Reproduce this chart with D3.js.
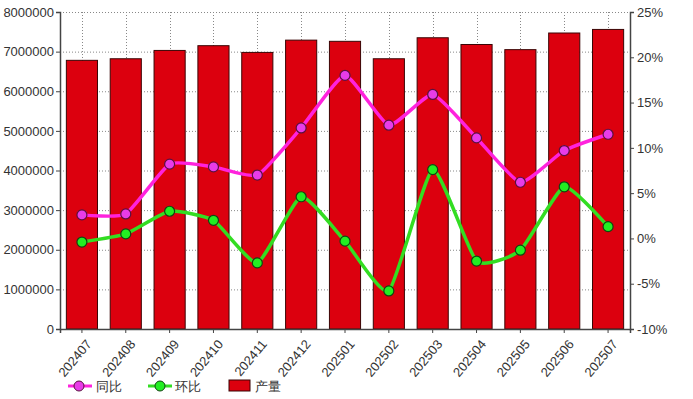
<!DOCTYPE html>
<html>
<head>
<meta charset="utf-8">
<script src="https://cdn.jsdelivr.net/npm/d3@7/dist/d3.min.js"></script>
<style>
  body { margin: 0; background: #fff; }
  text { font-family: Arial, "Liberation Sans", sans-serif; fill: #333; }
</style>
</head>
<body>
<script>
var months = ["202407", "202408", "202409", "202410", "202411", "202412", "202501",
  "202502", "202503", "202504", "202505", "202506", "202507"];
var output = [6780000, 6820000, 7030000, 7150000, 6980000, 7290000, 7260000,
  6820000, 7350000, 7180000, 7050000, 7470000, 7560000];
var yoy = [2.6, 2.7, 8.2, 7.9, 7.0, 12.2, 18.0, 12.5, 15.9, 11.1, 6.2, 9.7, 11.5];
var mom = [-0.4, 0.5, 3.0, 2.0, -2.7, 4.6, -0.3, -5.8, 7.6, -2.5, -1.3, 5.7, 1.3];
var leftTicks = [0, 1000000, 2000000, 3000000, 4000000, 5000000, 6000000, 7000000, 8000000];
var rightTicks = [-10, -5, 0, 5, 10, 15, 20, 25];

var margin = { top: 12, right: 63, bottom: 70, left: 60 },
  W = 693, H = 399,
  width = W - margin.left - margin.right,
  height = H - margin.top - margin.bottom;

var svg = d3.select("body").append("svg").attr("width", W).attr("height", H);
var g = svg.append("g").attr("transform", `translate(${margin.left},${margin.top})`);

var x = d3.scaleBand().domain(months).range([0, width]).paddingInner(0.29).paddingOuter(0.145);
var xc = function (d) { return x(d) + x.bandwidth() / 2; };
var y = d3.scaleLinear().domain([0, 8000000]).range([height, 0]);
var y2 = d3.scaleLinear().domain([-10, 25]).range([height, 0]);

// grid
g.selectAll(".hgrid").data(leftTicks.slice(1)).enter().append("line")
  .attr("x1", 0).attr("x2", width)
  .attr("y1", function (d) { return y(d) + 0.5; }).attr("y2", function (d) { return y(d) + 0.5; })
  .attr("stroke", "#888").attr("stroke-dasharray", "1,2");
g.selectAll(".vgrid").data(months).enter().append("line")
  .attr("x1", function (d) { return Math.round(xc(d)) + 0.5; })
  .attr("x2", function (d) { return Math.round(xc(d)) + 0.5; })
  .attr("y1", 0).attr("y2", height)
  .attr("stroke", "#888").attr("stroke-dasharray", "1,2");

// bars
g.selectAll(".bar").data(output).enter().append("rect")
  .attr("x", function (d, i) { return x(months[i]); })
  .attr("y", function (d) { return y(d); })
  .attr("width", x.bandwidth())
  .attr("height", function (d) { return height - y(d); })
  .attr("fill", "#dc000e")
  .attr("stroke", "#3a0505").attr("stroke-width", 1);

// axes
var yAxis = d3.axisLeft(y).tickValues(leftTicks).tickSize(4).tickFormat(d3.format("d"));
var gy = g.append("g").call(yAxis);
var y2Axis = d3.axisRight(y2).tickValues(rightTicks).tickSize(4).tickFormat(function (d) { return d + "%"; });
var gy2 = g.append("g").attr("transform", `translate(${width},0)`).call(y2Axis);
var xAxis = d3.axisBottom(x).tickSize(4);
var gx = g.append("g").attr("transform", `translate(0,${height})`).call(xAxis);

[gy, gy2, gx].forEach(function (a) {
  a.select(".domain").attr("stroke", "#444").attr("stroke-width", 1.5);
  a.selectAll(".tick line").attr("stroke", "#444");
  a.selectAll("text").style("font-size", "13px").attr("fill", "#333");
});
gy.selectAll("text").attr("x", -6);
gy2.selectAll("text").attr("x", 7);
gx.selectAll("text")
  .attr("text-anchor", "end")
  .attr("dx", "0")
  .attr("dy", "0")
  .attr("transform", "translate(5,11) rotate(-50)");

// lines
var line = function (vals) {
  return d3.line()
    .x(function (d, i) { return xc(months[i]); })
    .y(function (d) { return y2(d); })
    .curve(d3.curveCardinal.tension(0.5))(vals);
};

function series(vals, stroke, fill, edge) {
  g.append("path").attr("d", line(vals))
    .attr("fill", "none").attr("stroke", stroke).attr("stroke-width", 3.5);
  g.selectAll(null).data(vals).enter().append("circle")
    .attr("cx", function (d, i) { return xc(months[i]); })
    .attr("cy", function (d) { return y2(d); })
    .attr("r", 5)
    .attr("fill", fill).attr("stroke", edge).attr("stroke-width", 1.2);
}
series(yoy, "#ff22dd", "#e83ce8", "#5a1040");
series(mom, "#33dd22", "#22ee22", "#114411");

// legend
var lg = svg.append("g").attr("transform", "translate(0,386)");
lg.append("line").attr("x1", 68).attr("x2", 92).attr("y1", 0).attr("y2", 0)
  .attr("stroke", "#ff22dd").attr("stroke-width", 3);
lg.append("circle").attr("cx", 79).attr("cy", 0).attr("r", 5)
  .attr("fill", "#e83ce8").attr("stroke", "#5a1040");
lg.append("text").attr("x", 96).attr("y", 5).style("font-size", "13px").text("同比");
lg.append("line").attr("x1", 148).attr("x2", 172).attr("y1", 0).attr("y2", 0)
  .attr("stroke", "#33dd22").attr("stroke-width", 3);
lg.append("circle").attr("cx", 160).attr("cy", 0).attr("r", 5)
  .attr("fill", "#22ee22").attr("stroke", "#114411");
lg.append("text").attr("x", 175).attr("y", 5).style("font-size", "13px").text("环比");
lg.append("rect").attr("x", 229).attr("y", -6).attr("width", 21).attr("height", 11)
  .attr("fill", "#dc000e").attr("stroke", "#3a0505");
lg.append("text").attr("x", 255).attr("y", 5).style("font-size", "13px").text("产量");
</script>
</body>
</html>
